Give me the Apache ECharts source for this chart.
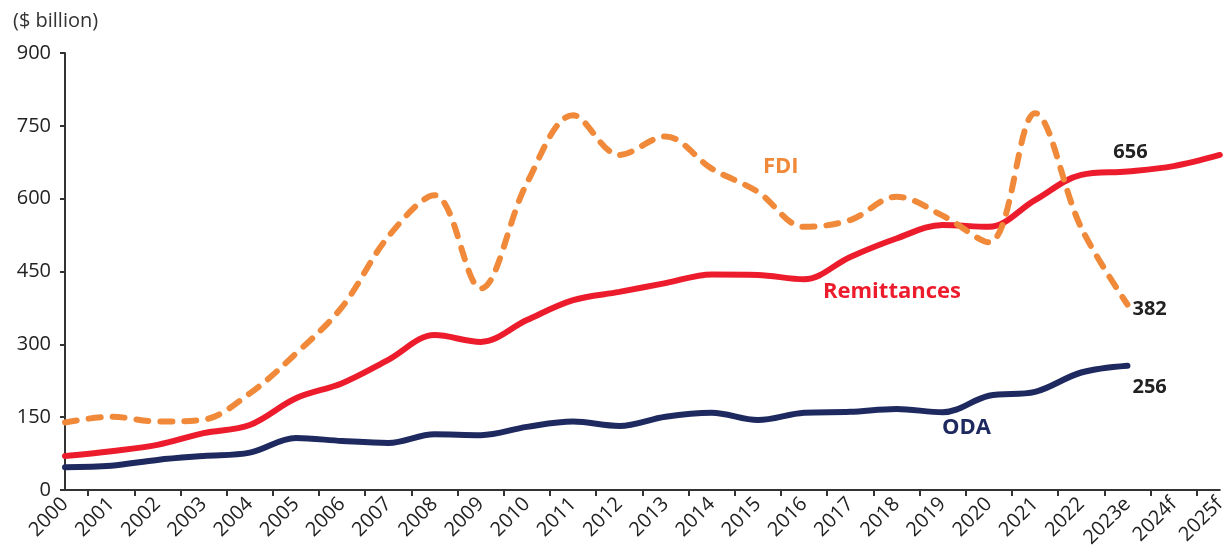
<!DOCTYPE html>
<html>
<head>
<meta charset="utf-8">
<script src="https://cdn.jsdelivr.net/npm/echarts@6/dist/echarts.min.js"></script>
<style>
html,body{margin:0;padding:0;background:#fff;}
#main{width:1229px;height:560px;}
</style>
</head>
<body>
<div id="main"></div>
<script>
var years = ['2000','2001','2002','2003','2004','2005','2006','2007','2008','2009',
    '2010','2011','2012','2013','2014','2015','2016','2017','2018','2019',
    '2020','2021','2022','2023e','2024f','2025f'];

var remittances = [70, 80, 93, 117, 134, 189, 220, 268, 319, 305,
    350, 391, 408, 426, 444, 443, 434, 480, 518, 546,
    542, 597, 649, 656, 667, 690];
var fdi = [139, 151, 141, 145, 199, 281, 377, 522, 607, 415,
    632, 772, 690, 728, 662, 614, 542, 556, 604, 565,
    510, 776, 540, 382];
var oda = [47, 50, 62, 70, 77, 107, 101, 97, 115, 113,
    130, 141, 132, 151, 159, 144, 159, 161, 167, 160,
    194, 202, 242, 256];

var yTicks = {min: 0, max: 900, interval: 150};

var red = '#EC1C2D', navy = '#1E2960', orange = '#F08A3A';
var font = '"Open Sans", "Noto Sans", sans-serif';

// show value label only on the 2023e point
function withEndLabel(arr, idx, pos, offset) {
    return arr.map(function (v, i) {
        if (i !== idx) return v;
        return {
            value: v,
            label: {
                show: true, position: pos, offset: offset,
                formatter: '{c}', color: '#222', fontSize: 20,
                fontWeight: 'bold', fontFamily: font
            }
        };
    });
}

function lineSeries(name, data, color, width, dash, z) {
    return {
        name: name,
        type: 'line',
        smooth: 0.35,
        symbol: 'circle',
        symbolSize: 0.1,
        showSymbol: true,
        showAllSymbol: true,
        data: data,
        lineStyle: {color: color, width: width, type: dash, cap: 'round'},
        itemStyle: {color: color},
        z: z
    };
}

var myChart = echarts.init(document.getElementById('main'));
var option = {
    backgroundColor: '#fff',
    animation: false,
    title: {
        text: '($ billion)',
        left: 8, top: 6,
        textStyle: {color: '#333', fontSize: 20, fontWeight: 'normal', fontFamily: font}
    },
    grid: {left: 65, right: 9, top: 53, bottom: 70, containLabel: false},
    xAxis: [{
        type: 'category',
        data: years,
        boundaryGap: false,
        axisLine: {lineStyle: {color: '#333', width: 2}},
        axisTick: {show: false},
        axisLabel: {interval: 0, rotate: 45, margin: 11, color: '#222', fontSize: 20, fontFamily: font}
    }, {
        type: 'category',
        data: years.slice(1),
        boundaryGap: true,
        position: 'bottom',
        axisLine: {show: false},
        axisTick: {show: true, alignWithLabel: true, interval: 0, length: 6, lineStyle: {color: '#333', width: 2}},
        axisLabel: {show: false, interval: 0}
    }],
    yAxis: {
        type: 'value',
        min: yTicks.min, max: yTicks.max, interval: yTicks.interval,
        splitLine: {show: false},
        axisLine: {show: true, lineStyle: {color: '#333', width: 2}},
        axisTick: {show: true, length: 5, lineStyle: {color: '#333', width: 2}},
        axisLabel: {color: '#222', fontSize: 20, margin: 14, fontFamily: font}
    },
    series: [
        lineSeries('ODA', withEndLabel(oda, 23, 'right', [0, 22]), navy, 6, 'solid', 3),
        lineSeries('Remittances', withEndLabel(remittances, 23, 'top', [3, -4]), red, 6, 'solid', 4),
        lineSeries('FDI', withEndLabel(fdi, 23, 'right', [0, 5]), orange, 6, [12, 12], 5)
    ],
    graphic: [
        {type: 'text', left: 763, top: 156, style: {text: 'FDI', fill: orange, fontSize: 22, fontWeight: 'bold', fontFamily: font}},
        {type: 'text', left: 823, top: 281, style: {text: 'Remittances', fill: red, fontSize: 22, fontWeight: 'bold', fontFamily: font}},
        {type: 'text', left: 942, top: 417, style: {text: 'ODA', fill: navy, fontSize: 22, fontWeight: 'bold', fontFamily: font}}
    ]
};
myChart.setOption(option);
</script>
</body>
</html>
